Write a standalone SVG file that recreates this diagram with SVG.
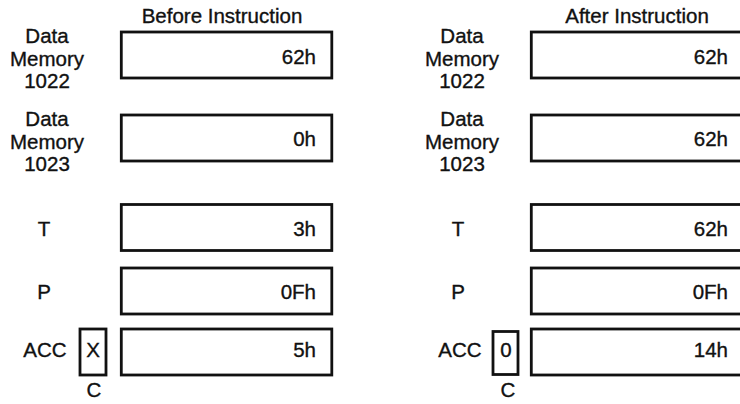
<svg xmlns="http://www.w3.org/2000/svg" width="740" height="404" viewBox="0 0 740 404">
<style>
text{font-family:"Liberation Sans",Arial,Helvetica,sans-serif;font-size:20.5px;fill:#111;stroke:#111;stroke-width:0.35;}
.lbl{text-anchor:middle;}
.val{text-anchor:end;}
.box{fill:#fff;stroke:#111;stroke-width:2.8;}
</style>
<rect width="740" height="404" fill="#fff"/>
<g id="titles">
<text class="lbl" x="222" y="22.5">Before Instruction</text>
<text class="lbl" x="637" y="22.5">After Instruction</text>
</g>
<g id="before">
<g id="b-dm1022">
<text class="lbl" x="47"><tspan x="47" y="43">Data</tspan><tspan x="47" y="65.5">Memory</tspan><tspan x="47" y="88">1022</tspan></text>
<rect class="box" x="121.3" y="32" width="210.5" height="46"/>
<text class="val" x="316" y="64">62h</text>
</g>
<g id="b-dm1023">
<text class="lbl" x="47"><tspan x="47" y="126">Data</tspan><tspan x="47" y="148.5">Memory</tspan><tspan x="47" y="171">1023</tspan></text>
<rect class="box" x="121.3" y="115" width="210.5" height="46"/>
<text class="val" x="316" y="146">0h</text>
</g>
<g id="b-t">
<text class="lbl" x="44" y="236">T</text>
<rect class="box" x="121.3" y="204.5" width="210.5" height="46"/>
<text class="val" x="316" y="236">3h</text>
</g>
<g id="b-p">
<text class="lbl" x="44" y="299">P</text>
<rect class="box" x="121.3" y="268" width="210.5" height="46"/>
<text class="val" x="316" y="299">0Fh</text>
</g>
<g id="b-acc">
<text class="lbl" x="45" y="357">ACC</text>
<rect class="box" x="121.3" y="329" width="210.5" height="46"/>
<text class="val" x="316" y="357">5h</text>
</g>
<g id="b-c">
<rect class="box" x="80" y="329" width="26" height="46"/>
<text class="lbl" x="93" y="357">X</text>
<text class="lbl" x="94" y="397">C</text>
</g>
</g>
<g id="after">
<g id="a-dm1022">
<text class="lbl" x="462"><tspan x="462" y="43">Data</tspan><tspan x="462" y="65.5">Memory</tspan><tspan x="462" y="88">1022</tspan></text>
<rect class="box" x="531.3" y="32" width="212" height="46"/>
<text class="val" x="728" y="64">62h</text>
</g>
<g id="a-dm1023">
<text class="lbl" x="462"><tspan x="462" y="126">Data</tspan><tspan x="462" y="148.5">Memory</tspan><tspan x="462" y="171">1023</tspan></text>
<rect class="box" x="531.3" y="115" width="212" height="46"/>
<text class="val" x="728" y="146">62h</text>
</g>
<g id="a-t">
<text class="lbl" x="458" y="236">T</text>
<rect class="box" x="531.3" y="204.5" width="212" height="46"/>
<text class="val" x="728" y="236">62h</text>
</g>
<g id="a-p">
<text class="lbl" x="458" y="299">P</text>
<rect class="box" x="531.3" y="268" width="212" height="46"/>
<text class="val" x="728" y="299">0Fh</text>
</g>
<g id="a-acc">
<text class="lbl" x="460" y="357">ACC</text>
<rect class="box" x="531.3" y="329" width="212" height="46"/>
<text class="val" x="728" y="357">14h</text>
</g>
<g id="a-c">
<rect class="box" x="493" y="331.5" width="25" height="43"/>
<text class="lbl" x="506" y="357">0</text>
<text class="lbl" x="508" y="397">C</text>
</g>
</g>
<g id="connectors"></g>
</svg>
